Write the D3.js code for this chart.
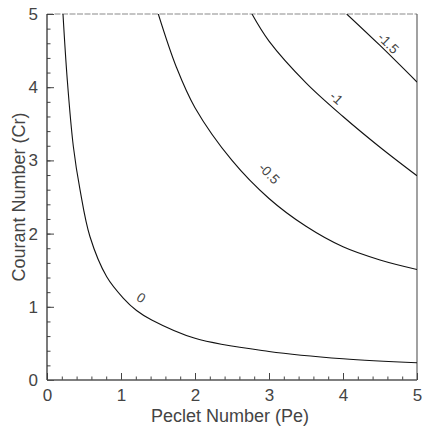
<!DOCTYPE html>
<html>
<head>
<meta charset="utf-8">
<script src="https://cdn.jsdelivr.net/npm/d3@7"></script>
<style>
  html, body { margin: 0; padding: 0; background: #fff; }
  svg { display: block; }
  text { font-family: "Liberation Sans", Arial, Helvetica, sans-serif; fill: #444; }
</style>
</head>
<body>
<svg id="chart" width="425" height="428"></svg>
<script>
// Contour levels and the (Pe, Cr) points that trace each level line
const levels = [0, -0.5, -1, -1.5];

const pe0  = [0.216, 0.274, 0.356, 0.446, 0.58, 0.807, 1.03, 1.21, 1.415, 2.0, 3.0, 4.0, 5.0];
const cr0  = [5.0,   4.10,  3.19,  2.60,  1.96, 1.41,  1.12, 0.95, 0.82,  0.57, 0.39, 0.29, 0.236];

const peM05 = [1.504, 1.75, 2.0,  2.5,  3.0,  3.5,  4.0,  4.5,  5.0];
const crM05 = [5.0,   4.27, 3.72, 3.0,  2.48, 2.10, 1.82, 1.64, 1.51];

const peM1 = [2.77, 3.0,  3.5,  4.0,  4.5,  5.0];
const crM1 = [5.0,  4.63, 4.06, 3.60, 3.18, 2.79];

const peM15 = [4.05, 4.5,  5.0];
const crM15 = [5.0,  4.57, 4.07];

// Level labels and where they sit along each line
const labelText = ["0", "-0.5", "-1", "-1.5"];
const labelPe   = [1.27, 3.0, 3.91, 4.61];
const labelCr   = [1.12, 2.82, 3.85, 4.60];

// Axis ticks
const majorTicks = [0, 1, 2, 3, 4, 5];
const minorTicks = d3.range(0, 26).map(i => i / 5);

const svg = d3.select("#chart");
const plot = { left: 47, right: 417, top: 14, bottom: 380 };

const x = d3.scaleLinear().domain([0, 5]).range([plot.left, plot.right]);
const y = d3.scaleLinear().domain([0, 5]).range([plot.bottom, plot.top]);

svg.append("clipPath").attr("id", "plot-clip")
  .append("rect")
  .attr("x", plot.left).attr("y", plot.top)
  .attr("width", plot.right - plot.left).attr("height", plot.bottom - plot.top);

// Frame: top and right edges
svg.append("line").attr("x1", plot.left).attr("x2", plot.right).attr("y1", plot.top).attr("y2", plot.top)
  .attr("stroke", "#8a8a8a").attr("stroke-width", 1.2).attr("stroke-dasharray", "6,1.5");
svg.append("line").attr("x1", plot.right).attr("x2", plot.right).attr("y1", plot.top).attr("y2", plot.bottom)
  .attr("stroke", "#555").attr("stroke-width", 1.1);

// Bottom axis
const gx = svg.append("g").attr("transform", `translate(0,${plot.bottom})`)
  .call(d3.axisBottom(x).tickValues(minorTicks).tickSize(-3.5).tickFormat(""));
gx.select(".domain").remove();
const gxMajor = svg.append("g").attr("transform", `translate(0,${plot.bottom})`)
  .call(d3.axisBottom(x).tickValues(majorTicks).tickSize(-7).tickPadding(9).tickFormat(d3.format("d")));
gxMajor.select(".domain").remove();

// Left axis
const gy = svg.append("g").attr("transform", `translate(${plot.left},0)`)
  .call(d3.axisLeft(y).tickValues(minorTicks).tickSize(-3.5).tickFormat(""));
gy.select(".domain").remove();
const gyMajor = svg.append("g").attr("transform", `translate(${plot.left},0)`)
  .call(d3.axisLeft(y).tickValues(majorTicks).tickSize(-7).tickPadding(9).tickFormat(d3.format("d")));
gyMajor.select(".domain").remove();

svg.selectAll(".tick line").attr("stroke", "#444").attr("stroke-width", 1);
svg.selectAll(".tick text")
  .attr("font-size", 17)
  .attr("font-family", "Liberation Sans, Arial, sans-serif")
  .attr("fill", "#444");

// Axis lines
svg.append("line").attr("x1", plot.left).attr("x2", plot.right).attr("y1", plot.bottom).attr("y2", plot.bottom)
  .attr("stroke", "#555").attr("stroke-width", 1.3);
svg.append("line").attr("x1", plot.left).attr("x2", plot.left).attr("y1", plot.top).attr("y2", plot.bottom)
  .attr("stroke", "#333").attr("stroke-width", 1.3);

// Axis titles
svg.append("text")
  .attr("x", (plot.left + plot.right) / 2 - 2).attr("y", 422)
  .attr("text-anchor", "middle").attr("font-size", 18)
  .text("Peclet Number (Pe)");
svg.append("text")
  .attr("transform", `translate(25,${(plot.top + plot.bottom) / 2}) rotate(-90)`)
  .attr("text-anchor", "middle").attr("font-size", 18)
  .text("Courant Number (Cr)");

// Contour lines
const lineSets = [
  d3.zip(pe0, cr0),
  d3.zip(peM05, crM05),
  d3.zip(peM1, crM1),
  d3.zip(peM15, crM15)
];

const line = d3.line()
  .x(d => x(d[0]))
  .y(d => y(d[1]))
  .curve(d3.curveCatmullRom.alpha(0.5));

svg.append("g").attr("clip-path", "url(#plot-clip)")
  .selectAll("path")
  .data(lineSets)
  .join("path")
  .attr("d", line)
  .attr("fill", "none")
  .attr("stroke", "#111")
  .attr("stroke-width", 1.1);

// Level labels, turned to follow the local direction of their line
function localAngle(pts, pe) {
  let i = d3.bisector(d => d[0]).left(pts, pe);
  i = Math.max(1, Math.min(pts.length - 1, i));
  const a = pts[i - 1], b = pts[i];
  const dx = x(b[0]) - x(a[0]);
  const dy = y(b[1]) - y(a[1]);
  return Math.atan2(dy, dx) * 180 / Math.PI;
}

svg.append("g")
  .selectAll("text")
  .data(levels.map((lv, i) => ({ text: labelText[i], pe: labelPe[i], cr: labelCr[i], pts: lineSets[i] })))
  .join("text")
  .attr("transform", d => `translate(${x(d.pe)},${y(d.cr)}) rotate(${localAngle(d.pts, d.pe)})`)
  .attr("text-anchor", "middle")
  .attr("dominant-baseline", "central")
  .attr("font-size", 13.5)
  .text(d => d.text);
</script>
</body>
</html>
